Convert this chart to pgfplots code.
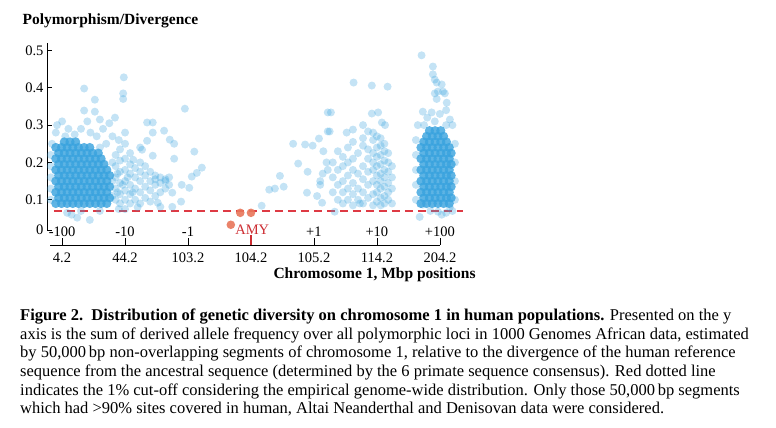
\documentclass[border=0pt]{standalone}
\usepackage{fontspec}
\setmainfont{Liberation Serif}
\usepackage{pgfplots}
\pgfplotsset{compat=1.18}
\definecolor{dotblue}{RGB}{58,163,222}
\definecolor{amyred}{RGB}{232,118,90}
\definecolor{cutred}{RGB}{222,58,68}
\definecolor{labred}{RGB}{205,45,50}
\begin{document}
\begin{tikzpicture}
\useasboundingbox (0,0) rectangle (776pt,428pt);
\begin{axis}[at={(47pt,198pt)}, anchor=south west, scale only axis,
  width=418pt, height=187pt,
  xmin=-0.24, xmax=6.4, ymin=0.019, ymax=0.52,
  axis x line=none, axis y line*=left,
  ytick={0.019,0.1,0.2,0.3,0.4,0.5},
  yticklabels={0,0.1,0.2,0.3,0.4,0.5},
  ytick align=inside, major tick length=5pt,
  tick style={black, line width=0.9pt},
  axis line style={black, line width=0.9pt},
  yticklabel style={font=\fontsize{14.5}{16}\selectfont},
  /pgf/number format/assume math mode=true,
  clip=false]
% dense cores
\addplot[dotblue, only marks, mark=*, mark size=4.6pt, mark options={draw opacity=0, fill=dotblue, fill opacity=0.82}] coordinates {
(-0.10,0.09) (-0.01,0.09) (0.08,0.09) (0.17,0.09) (0.26,0.09) (0.35,0.09) (0.44,0.09) (0.53,0.09) (0.62,0.09) (0.71,0.09)
(-0.055,0.105) (0.035,0.105) (0.125,0.105) (0.215,0.105) (0.305,0.105) (0.395,0.105) (0.485,0.105) (0.575,0.105) (0.665,0.105) (0.755,0.105)
(-0.10,0.12) (-0.01,0.12) (0.08,0.12) (0.17,0.12) (0.26,0.12) (0.35,0.12) (0.44,0.12) (0.53,0.12) (0.62,0.12) (0.71,0.12)
(-0.055,0.135) (0.035,0.135) (0.125,0.135) (0.215,0.135) (0.305,0.135) (0.395,0.135) (0.485,0.135) (0.575,0.135) (0.665,0.135) (0.755,0.135)
(-0.10,0.15) (-0.01,0.15) (0.08,0.15) (0.17,0.15) (0.26,0.15) (0.35,0.15) (0.44,0.15) (0.53,0.15) (0.62,0.15) (0.71,0.15)
(-0.055,0.165) (0.035,0.165) (0.125,0.165) (0.215,0.165) (0.305,0.165) (0.395,0.165) (0.485,0.165) (0.575,0.165) (0.665,0.165) (0.755,0.165)
(-0.10,0.18) (-0.01,0.18) (0.08,0.18) (0.17,0.18) (0.26,0.18) (0.35,0.18) (0.44,0.18) (0.53,0.18) (0.62,0.18) (0.71,0.18)
(-0.055,0.195) (0.035,0.195) (0.125,0.195) (0.215,0.195) (0.305,0.195) (0.395,0.195) (0.485,0.195) (0.575,0.195) (0.665,0.195)
(-0.10,0.21) (-0.01,0.21) (0.08,0.21) (0.17,0.21) (0.26,0.21) (0.35,0.21) (0.44,0.21) (0.53,0.21) (0.62,0.21)
(-0.055,0.225) (0.035,0.225) (0.125,0.225) (0.215,0.225) (0.305,0.225) (0.395,0.225) (0.485,0.225) (0.575,0.225)
(-0.10,0.24) (-0.01,0.24) (0.08,0.24) (0.17,0.24) (0.26,0.24) (0.35,0.24) (0.44,0.24)
(0.035,0.255) (0.125,0.255) (0.215,0.255)
(5.70,0.09) (5.79,0.09) (5.88,0.09) (5.97,0.09) (6.06,0.09) (6.15,0.09)
(5.745,0.105) (5.835,0.105) (5.925,0.105) (6.015,0.105) (6.105,0.105) (6.18,0.105)
(5.70,0.12) (5.79,0.12) (5.88,0.12) (5.97,0.12) (6.06,0.12) (6.15,0.12)
(5.745,0.135) (5.835,0.135) (5.925,0.135) (6.015,0.135) (6.105,0.135) (6.18,0.135)
(5.70,0.15) (5.79,0.15) (5.88,0.15) (5.97,0.15) (6.06,0.15) (6.15,0.15)
(5.745,0.165) (5.835,0.165) (5.925,0.165) (6.015,0.165) (6.105,0.165) (6.18,0.165)
(5.70,0.18) (5.79,0.18) (5.88,0.18) (5.97,0.18) (6.06,0.18) (6.15,0.18)
(5.745,0.195) (5.835,0.195) (5.925,0.195) (6.015,0.195) (6.105,0.195) (6.18,0.195)
(5.70,0.21) (5.79,0.21) (5.88,0.21) (5.97,0.21) (6.06,0.21) (6.15,0.21)
(5.745,0.225) (5.835,0.225) (5.925,0.225) (6.015,0.225) (6.105,0.225) (6.18,0.225)
(5.70,0.24) (5.79,0.24) (5.88,0.24) (5.97,0.24) (6.06,0.24) (6.15,0.24)
(5.745,0.255) (5.835,0.255) (5.925,0.255) (6.015,0.255) (6.105,0.255)
(5.79,0.27) (5.88,0.27) (5.97,0.27) (6.06,0.27)
(5.835,0.285) (5.925,0.285) (6.015,0.285)
};
% scattered points
\addplot[dotblue, only marks, mark=*, mark size=4pt, mark options={draw opacity=0, fill=dotblue, fill opacity=0.3}] coordinates {
(0.98,0.428) (0.97,0.385) (0.97,0.37) (0.35,0.398) (0.52,0.368) (0.35,0.339) (0.52,0.336)
(0.84,0.32) (0.0,0.31) (-0.08,0.30) (0.1,0.29) (0.3,0.29) (0.4,0.31) (0.6,0.315) (0.75,0.305)
(0.65,0.29) (0.45,0.28) (1.0,0.28) (0.55,0.27) (0.8,0.27) (-0.1,0.28) (0.2,0.275) (0.05,0.27)
(1.95,0.344) (1.35,0.307) (1.44,0.307) (1.44,0.28) (1.62,0.285) (1.35,0.258) (1.71,0.261)
(1.78,0.25) (1.27,0.234) (1.44,0.218) (1.78,0.21) (2.1,0.229) (2.22,0.186) (2.14,0.172)
(2.06,0.162) (1.9,0.14) (2.02,0.132) (1.75,0.119) (1.89,0.095) (1.75,0.081) (1.52,0.092)
(1.56,0.081) (1.13,0.207) (1.24,0.24) (1.0,0.25) (0.9,0.26) (0.44,0.046) (0.24,0.052)
(0.08,0.065) (0.15,0.06) (0.3,0.07) (0.6,0.07) (0.9,0.075) (1.2,0.08) (1.0,0.075)
(-0.18,0.1) (-0.18,0.13) (-0.18,0.16) (-0.18,0.19) (-0.18,0.22) (-0.16,0.25) (0.7,0.25) (0.6,0.24)
(0.85,0.1) (0.85,0.13) (0.85,0.16) (0.85,0.19) (0.85,0.22)
(0.92,0.09) (0.92,0.115) (0.92,0.145) (0.92,0.175) (0.92,0.205) (0.92,0.235)
(1.0,0.1) (1.0,0.125) (1.0,0.15) (1.0,0.18) (1.0,0.21)
(1.08,0.09) (1.08,0.115) (1.08,0.14) (1.08,0.17) (1.08,0.195) (1.08,0.225)
(1.16,0.1) (1.16,0.13) (1.16,0.16) (1.16,0.185)
(1.24,0.09) (1.24,0.12) (1.24,0.15) (1.24,0.175) (1.24,0.2)
(1.32,0.105) (1.32,0.135) (1.32,0.165) (1.32,0.19)
(1.40,0.095) (1.40,0.125) (1.40,0.15) (1.40,0.175)
(1.48,0.11) (1.48,0.14) (1.48,0.155) (1.48,0.165)
(1.56,0.12) (1.56,0.145) (1.56,0.16) (1.64,0.13) (1.64,0.15) (1.64,0.155) (1.70,0.14) (1.70,0.16)
(0.8,0.11) (0.8,0.15) (0.8,0.2) (0.88,0.12) (0.88,0.17) (0.96,0.14) (1.04,0.16) (1.12,0.12)
(3.17,0.084) (3.29,0.127) (3.38,0.13) (3.52,0.135) (3.46,0.164) (3.75,0.197) (3.67,0.25)
(3.86,0.248) (3.98,0.245) (4.08,0.264) (4.22,0.283) (4.22,0.334) (3.89,0.119) (3.9,0.175)
(4.1,0.14) (4.13,0.092) (4.14,0.17) (4.22,0.18) (4.25,0.283) (4.27,0.334)
(4.63,0.414) (4.92,0.406) (5.17,0.403) (4.92,0.331) (5.02,0.334) (5.08,0.307) (5.13,0.3)
(4.78,0.3) (4.62,0.288) (4.52,0.28) (4.86,0.283) (4.94,0.28)
(4.3,0.12) (4.3,0.16) (4.3,0.2) (4.38,0.1) (4.38,0.14) (4.38,0.18) (4.38,0.23)
(4.46,0.09) (4.46,0.12) (4.46,0.15) (4.46,0.19) (4.46,0.215)
(4.54,0.1) (4.54,0.13) (4.54,0.165) (4.54,0.2) (4.54,0.24)
(4.62,0.085) (4.62,0.115) (4.62,0.145) (4.62,0.18) (4.62,0.21) (4.62,0.255)
(4.70,0.1) (4.70,0.13) (4.70,0.17) (4.70,0.225)
(4.78,0.09) (4.78,0.12) (4.78,0.155) (4.78,0.19) (4.78,0.245) (4.78,0.265)
(4.86,0.105) (4.86,0.14) (4.86,0.175) (4.86,0.21) (4.86,0.235)
(4.94,0.085) (4.94,0.115) (4.94,0.15) (4.94,0.18) (4.94,0.2) (4.94,0.225) (4.94,0.26)
(5.00,0.095) (5.00,0.12) (5.00,0.14) (5.00,0.165) (5.00,0.19) (5.00,0.215) (5.00,0.24) (5.00,0.27)
(5.06,0.085) (5.06,0.105) (5.06,0.13) (5.06,0.15) (5.06,0.17) (5.06,0.195) (5.06,0.22) (5.06,0.245) (5.06,0.265)
(5.12,0.09) (5.12,0.11) (5.12,0.135) (5.12,0.16) (5.12,0.18) (5.12,0.205) (5.12,0.23) (5.12,0.25)
(5.18,0.1) (5.18,0.12) (5.18,0.145) (5.18,0.175) (5.18,0.2) (5.18,0.225)
(5.24,0.09) (5.24,0.13) (5.24,0.16) (5.24,0.19)
(4.33,0.068) (4.73,0.09) (4.2,0.2) (4.15,0.23) (4.1,0.15) (4.05,0.11)
(5.71,0.487) (5.89,0.457) (5.89,0.436) (5.92,0.422) (5.95,0.414) (6.03,0.409) (6.05,0.39)
(5.97,0.39) (5.92,0.385) (6.08,0.385) (5.95,0.37) (6.11,0.36) (5.73,0.336) (5.87,0.334)
(6.16,0.315) (5.92,0.31) (5.8,0.32) (6.0,0.33) (6.1,0.34) (5.65,0.3) (6.2,0.3) (5.75,0.3) (6.1,0.3)
(5.73,0.087) (5.68,0.054) (5.97,0.068) (6.03,0.06) (6.16,0.08) (6.2,0.07) (5.85,0.07) (6.1,0.065)
(5.62,0.1) (5.62,0.14) (5.62,0.18) (5.62,0.22) (5.62,0.26) (6.24,0.1) (6.24,0.15) (6.24,0.2) (6.24,0.25)
};
% AMY region
\addplot[amyred, only marks, mark=*, mark size=4.3pt, mark options={draw opacity=0, fill=amyred, fill opacity=0.9}] coordinates {
(2.83,0.065) (3.0,0.065) (2.68,0.033)
};
% 1% cut-off
\addplot[cutred, line width=1.2pt, dash pattern=on 8pt off 5pt] coordinates {(-0.13,0.07) (6.37,0.07)};
\node[font=\fontsize{14.5}{16}\selectfont] at (axis cs:0,0.014) {-100};
\node[font=\fontsize{14.5}{16}\selectfont] at (axis cs:1,0.014) {-10};
\node[font=\fontsize{14.5}{16}\selectfont] at (axis cs:2,0.014) {-1};
\node[font=\fontsize{14.5}{16}\selectfont, text=labred] at (axis cs:3.02,0.019) {AMY};
\node[font=\fontsize{14.5}{16}\selectfont] at (axis cs:4,0.014) {+1};
\node[font=\fontsize{14.5}{16}\selectfont] at (axis cs:5,0.014) {+10};
\node[font=\fontsize{14.5}{16}\selectfont] at (axis cs:6,0.014) {+100};
\end{axis}
\begin{axis}[at={(50pt,183pt)}, anchor=south west, scale only axis,
  width=390pt, height=10pt,
  xmin=-0.19, xmax=6, ymin=0, ymax=1,
  axis y line=none, axis x line*=bottom,
  xtick={0,1,2,3,4,5,6},
  xticklabels={4.2,44.2,103.2,104.2,105.2,114.2,204.2},
  xtick align=inside, major tick length=7pt,
  tick style={black, line width=0.9pt},
  axis line style={black, line width=0.9pt},
  xticklabel style={font=\fontsize{14.5}{16}\selectfont, yshift=-4pt},
  clip=false]
\draw[labred, line width=2.5pt] (axis cs:3,0) -- ++(0pt,9.5pt);
\end{axis}
\node[anchor=west, font=\bfseries\fontsize{15.5}{18}\selectfont] at (19pt,407pt) {Polymorphism/Divergence};
\node[anchor=west, font=\bfseries\fontsize{15.5}{18}\selectfont] at (270pt,153pt) {Chromosome 1, Mbp positions};
\begin{scope}[every node/.style={anchor=base west, inner sep=0pt, font=\fontsize{16.5}{18}\selectfont}]
\node at (20pt,107.5pt) {\textbf{Figure 2.\ \ Distribution of genetic diversity on chromosome 1 in human populations.} Presented on the y};
\node at (20pt,88.8pt) {axis is the sum of derived allele frequency over all polymorphic loci in 1000 Genomes African data, estimated};
\node at (20pt,70.1pt) {by 50,000\,bp non-overlapping segments of chromosome 1, relative to the divergence of the human reference};
\node at (20pt,51.4pt) {sequence from the ancestral sequence (determined by the 6 primate sequence consensus). Red dotted line};
\node at (20pt,32.7pt) {indicates the 1\% cut-off considering the empirical genome-wide distribution. Only those 50,000\,bp segments};
\node at (20pt,14pt) {which had >90\% sites covered in human, Altai Neanderthal and Denisovan data were considered.};
\end{scope}
\end{tikzpicture}
\end{document}
